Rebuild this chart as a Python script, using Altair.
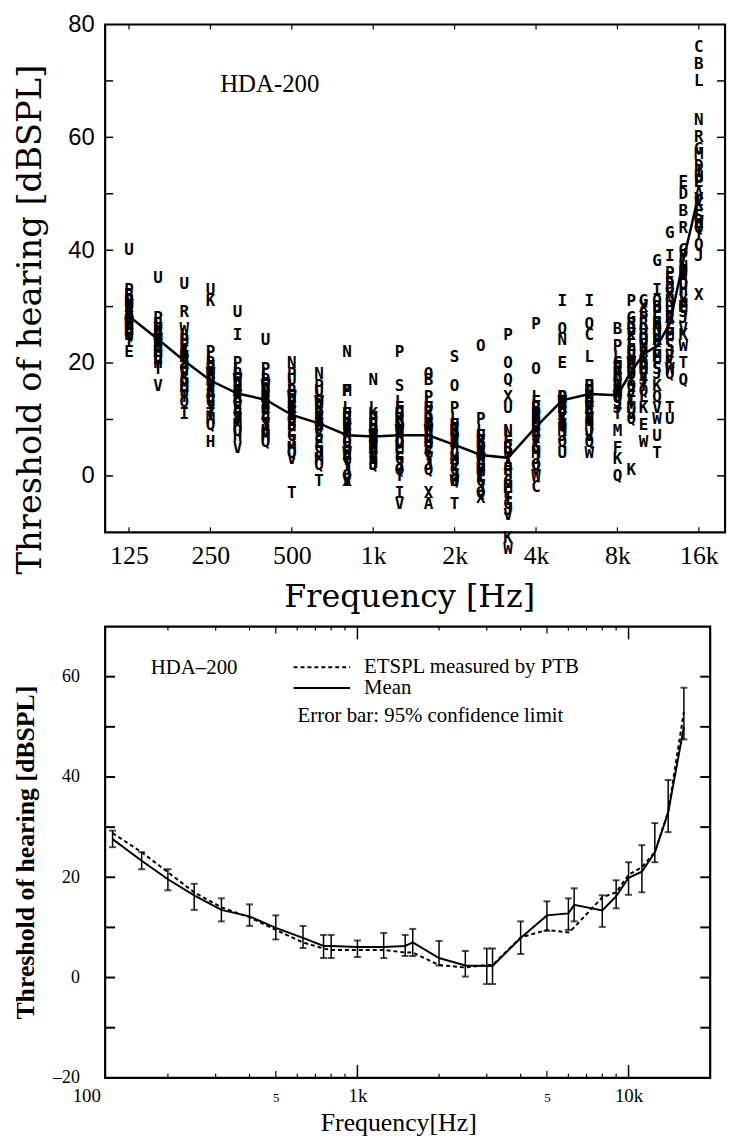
import altair as alt
import pandas as pd

# ---------------- data: top panel (individual subjects A..X) ----------------
subjects = list("ABCDEFGHIJKLMNOPQRSTUVWX")
top_freqs = [125, 160, 200, 250, 315, 400, 500, 630, 800, 1000, 1250, 1600,
             2000, 2500, 3150, 4000, 5000, 6300, 8000, 9000, 10000, 11200,
             12500, 14000, 16000]
thr_125 = [29, 31, 27, 30, 22, 28, 26, 25, 30, 28, 27, 29, 26, 31, 28, 33, 25, 32, 27, 24, 40, 29, 27, 30]
thr_160 = [25, 27, 24, 23, 21, 26, 22, 20, 24, 25, 23, 27, 22, 26, 24, 28, 21, 25, 23, 19, 35, 16, 24, 26]
thr_200 = [22, 24, 19, 21, 18, 23, 17, 15, 11, 20, 22, 25, 16, 21, 19, 24, 13, 29, 20, 14, 34, 18, 26, 21]
thr_250 = [18, 20, 15, 17, 14, 19, 13, 6, 16, 12, 31, 21, 10, 17, 14, 22, 9, 19, 16, 11, 33, 13, 18, 15]
thr_315 = [15, 18, 13, 16, 12, 17, 11, 7, 25, 10, 14, 19, 9, 15, 13, 20, 8, 16, 12, 10, 29, 5, 17, 14]
thr_400 = [14, 17, 12, 15, 11, 16, 10, 8, 13, 9, 14, 18, 7, 15, 12, 19, 6, 14, 11, 9, 24, 13, 16, 12]
thr_500 = [12, 15, 10, 13, 8, 14, 7, 9, 11, 6, 12, 16, 5, 20, 10, 18, 4, 13, 9, -3, 17, 3, 14, 11]
thr_630 = [10, 13, 8, 11, 6, 12, 5, 9, 10, 4, 11, 14, 3, 18, 9, 16, 2, 12, 7, -1, 15, 8, 13, 9]
thr_800 = [8, 10, 6, 9, 4, 11, 3, 7, 8, 1, 9, 12, 15, 22, 6, 15, 0, 10, 5, 2, 11, -1, 4, -1]
thr_1000 = [7, 9, 5, 8, 4, 10, 3, 6, 7, 2, 11, 12, 5, 17, 6, 10, 2, 8, 4, 3, 9, 6, 7, 5]
thr_1250 = [8, 11, 6, 9, 4, 12, 3, 7, -3, 2, 10, 13, 5, 9, 6, 22, 1, 10, 16, 0, 11, -5, 8, 7]
thr_1600 = [-5, 17, 8, 10, 5, 12, 4, 7, 9, 2, 11, 13, 6, 9, 18, 14, 1, 10, 6, 3, 12, 5, 8, -3]
thr_2000 = [6, 8, 4, 7, 2, 9, 1, 5, 6, 0, 8, 10, 3, 7, 16, 12, -1, 8, 21, -5, 9, 2, -1, 3]
thr_2500 = [4, 6, 2, 5, 0, 7, -1, 3, 4, -2, 6, 8, 1, 5, 23, 10, -3, 6, 2, 0, 7, 1, 3, -4]
thr_3150 = [2, 5, -1, 4, -3, 6, -5, 1, 3, -6, -11, 7, -2, 8, 20, 25, 17, 5, 0, -4, 12, -7, -13, 14]
thr_4000 = [9, 12, -2, 10, 6, 13, 5, 8, 11, 3, 10, 14, 4, 11, 19, 27, 2, 12, 7, 6, 9, 1, 0, 8]
thr_5000 = [12, 14, 10, 13, 20, 11, 9, 12, 31, 7, 13, 14, 8, 24, 26, 14, 6, 12, 10, 9, 4, 11, 13, 10]
thr_6300 = [14, 13, 25, 15, 10, 12, 11, 16, 31, 8, 12, 21, 9, 15, 27, 16, 6, 13, 11, 10, 14, 7, 4, 12]
thr_8000 = [15, 26, 20, 15, 19, 5, 20, 18, 16, 12, 3, 21, 8, 17, 14, 23, 0, 19, 13, 11, 15, 16, 14, 18]
thr_9000 = [20, 26, 22, 18, 24, 14, 28, 21, 17, 15, 1, 23, 12, 19, 16, 31, 10, 27, 18, 13, 22, 11, 20, 25]
thr_10000 = [22, 25, 29, 20, 9, 18, 31, 24, 21, 17, 12, 14, 19, 23, 26, 28, 15, 27, 20, 16, 24, 18, 6, 30]
thr_11200 = [24, 27, 22, 30, 28, 20, 38, 25, 33, 18, 16, 23, 21, 26, 31, 29, 14, 24, 19, 4, 7, 12, 10, 27]
thr_12500 = [28, 30, 26, 34, 35, 24, 43, 29, 39, 22, 20, 27, 25, 31, 33, 36, 18, 28, 23, 12, 10, 21, 19, 32]
thr_14000 = [35, 47, 38, 50, 52, 30, 40, 33, 36, 28, 25, 32, 30, 37, 34, 39, 17, 44, 29, 20, 36, 26, 23, 31]
thr_16000 = [50, 73, 76, 55, 52, 47, 58, 45, 54, 39, 48, 70, 57, 63, 41, 52, 44, 60, 46, 43, 53, 49, 45, 32]
top_table = [thr_125, thr_160, thr_200, thr_250, thr_315, thr_400, thr_500, thr_630,
             thr_800, thr_1000, thr_1250, thr_1600, thr_2000, thr_2500, thr_3150,
             thr_4000, thr_5000, thr_6300, thr_8000, thr_9000, thr_10000,
             thr_11200, thr_12500, thr_14000, thr_16000]
top_mean = [28.3, 24.2, 20.4, 16.9, 14.6, 13.5, 10.8, 9.3, 7.2, 7.0, 7.2, 7.2,
            5.5, 3.7, 3.2, 8.7, 13.4, 14.5, 14.3, 18.5, 21.6, 23.0, 27.0, 38.0, 50.0]
top_xtick_vals = [125, 250, 500, 1000, 2000, 4000, 8000, 16000]
top_ytick_vals = [0, 20, 40, 60, 80]
top_yminor = [0, 10, 20, 30, 40, 50, 60, 70]

# ---------------- data: bottom panel (mean, 95% CI, ETSPL) ----------------
bot_freqs = [125, 160, 200, 250, 315, 400, 500, 630, 750, 800, 1000, 1250, 1500,
             1600, 2000, 2500, 3000, 3150, 4000, 5000, 6000, 6300, 8000, 9000,
             10000, 11200, 12500, 14000, 16000]
bot_mean = [27.6, 23.3, 19.6, 16.4, 13.5, 12.2, 9.9, 7.9, 6.3, 6.3, 6.1, 6.1, 6.3,
            7.0, 3.9, 2.4, 2.3, 2.3, 7.9, 12.4, 12.8, 14.5, 13.4, 16.2, 19.9, 21.1,
            25.0, 32.9, 50.0]
bot_hi = [29.3, 25.0, 21.6, 18.7, 15.8, 14.6, 12.4, 10.3, 8.5, 8.5, 7.4, 8.9, 8.5,
          9.7, 7.3, 5.3, 5.8, 5.8, 11.2, 15.2, 15.8, 17.8, 16.4, 19.4, 23.0, 26.4,
          30.8, 39.4, 57.8]
bot_lo = [26.0, 21.6, 17.4, 13.5, 11.2, 10.3, 7.6, 5.9, 3.9, 3.9, 4.1, 3.9, 4.3,
          4.3, 2.4, 0.2, -1.3, -1.3, 4.7, 9.3, 9.5, 11.2, 10.1, 13.8, 16.5, 17.0,
          23.0, 29.0, 47.5]
etspl = [28.8, 25.0, 21.0, 17.0, 14.0, 12.0, 9.5, 7.0, 5.8, 5.5, 5.5, 5.5, 5.0,
         5.0, 2.5, 2.0, 2.5, 2.5, 8.0, 9.5, 9.0, 10.0, 16.0, 17.0, 20.5, 22.0,
         25.0, 33.0, 53.0]
bot_xminor = [200, 300, 400, 600, 700, 800, 900, 2000, 3000, 4000, 6000, 7000, 8000, 9000]
bot_xmid = [500, 5000]
bot_xmajor = [1000, 10000]
bot_ytick_vals = [-20, 0, 20, 40, 60]
bot_yminor = [-10, 0, 10, 20, 30, 40, 50, 60]

# ---------------- sizes ----------------
W1, H1 = 625, 512
LSHIFT = 19           # bottom scale starts this far left of the shared plot edge
W2, H2 = 610, 455
SERIF = "Liberation Serif"

rows = []
for f, vals in zip(top_freqs, top_table):
    for s, v in zip(subjects, vals):
        rows.append({"freq": f, "thr": v, "subj": s})
letters_df = pd.DataFrame(rows)
top_mean_df = pd.DataFrame({"freq": top_freqs, "thr": top_mean})

xs_top = alt.Scale(type="log", domain=[102, 20000], nice=False)
ys_top = alt.Scale(domain=[-10, 80], nice=False, zero=False)

x_axis_top = alt.Axis(
    values=top_xtick_vals,
    labelExpr="datum.value >= 1000 ? (datum.value / 1000) + 'k' : '' + datum.value",
    labelFont=SERIF, labelFontSize=26, labelPadding=10, labelFlush=False,
    labelColor="black", titleColor="black",
    titleFont="DejaVu Serif", titleFontSize=32, titleFontWeight="normal",
    titlePadding=14, titleX=W1 / 2 - 6)
y_axis_top = alt.Axis(
    values=top_ytick_vals, labelFont="Liberation Sans", labelFontSize=24,
    labelPadding=11, labelColor="black", titleColor="black",
    titleFont="DejaVu Serif", titleFontSize=34, titleFontWeight="normal",
    titleX=-75, titleY=297, titleAngle=270, titleAlign="center", titleBaseline="middle")

letters = alt.Chart(letters_df).mark_text(
    font="DejaVu Sans Mono", fontSize=16, fontWeight="bold", color="black"
).encode(
    x=alt.X("freq:Q", scale=xs_top, axis=x_axis_top, title="Frequency [Hz]"),
    y=alt.Y("thr:Q", scale=ys_top, axis=y_axis_top, title="Threshold of hearing [dBSPL]"),
    text="subj:N",
)
top_line = alt.Chart(top_mean_df).mark_line(color="black", strokeWidth=2.5).encode(
    x="freq:Q", y="thr:Q")


def xticks(vals, length, height, sw=1.2):
    df = pd.DataFrame({"freq": vals})
    b = alt.Chart(df).mark_rule(color="black", strokeWidth=sw).encode(
        x="freq:Q", y=alt.value(height), y2=alt.value(height - length))
    t = alt.Chart(df).mark_rule(color="black", strokeWidth=sw).encode(
        x="freq:Q", y=alt.value(0), y2=alt.value(length))
    return [b, t]


def yticks(vals, length, left, right, sw=1.5):
    df = pd.DataFrame({"thr": vals})
    l = alt.Chart(df).mark_rule(color="black", strokeWidth=sw).encode(
        y="thr:Q", x=alt.value(left), x2=alt.value(left + length))
    r = alt.Chart(df).mark_rule(color="black", strokeWidth=sw).encode(
        y="thr:Q", x=alt.value(right), x2=alt.value(right - length))
    return [l, r]


hda_top = alt.Chart(pd.DataFrame({"t": ["HDA-200"]})).mark_text(
    font=SERIF, fontSize=25, align="left", baseline="middle", color="black"
).encode(x=alt.value(116), y=alt.value(60), text="t:N")

top = alt.layer(
    letters, top_line, *xticks(top_xtick_vals, 5, H1),
    *yticks(top_yminor, 8, 0, W1), hda_top
).properties(width=W1, height=H1)

# ---------------- bottom panel ----------------
xs_bot = alt.Scale(type="log", domain=[100, 20000], range=[-LSHIFT, W2], nice=False)
ys_bot = alt.Scale(domain=[-20, 70], nice=False, zero=False)

bot_df = pd.DataFrame({"freq": bot_freqs, "thr": bot_mean, "lo": bot_lo, "hi": bot_hi})
etspl_df = pd.DataFrame({"freq": bot_freqs, "thr": etspl})
caps_df = pd.DataFrame({"freq": bot_freqs + bot_freqs, "thr": bot_lo + bot_hi})

x_axis_bot = alt.Axis(
    values=[100, 500, 1000, 5000, 10000],
    labelExpr="datum.value == 100 ? '100' : (datum.value == 500 || datum.value == 5000) ? '5' : datum.value == 1000 ? '1k' : '10k'",
    labelFont=SERIF, labelFontSize=alt.condition("datum.value == 500 || datum.value == 5000", alt.value(13), alt.value(19)),
    labelBaseline="alphabetic", labelPadding=24, labelFlush=False,
    labelColor="black", titleColor="black",
    titleFont=SERIF, titleFontSize=26, titleFontWeight="normal", titlePadding=4,
    titleX=(W2 - LSHIFT) / 2)
y_axis_bot = alt.Axis(
    values=bot_ytick_vals, offset=LSHIFT,
    labelExpr="datum.value < 0 ? '\u2013' + abs(datum.value) : '' + datum.value",
    labelFont=SERIF, labelFontSize=18, labelPadding=7,
    labelColor="black", titleColor="black",
    titleFont=SERIF, titleFontSize=26, titleFontWeight="bold",
    titleX=-61, titleY=H2 / 2, titleAngle=270, titleAlign="center", titleBaseline="middle")

mean_line = alt.Chart(bot_df).mark_line(color="black", strokeWidth=2).encode(
    x=alt.X("freq:Q", scale=xs_bot, axis=x_axis_bot, title="Frequency[Hz]"),
    y=alt.Y("thr:Q", scale=ys_bot, axis=y_axis_bot, title="Threshold of hearing [dBSPL]"),
)
etspl_line = alt.Chart(etspl_df).mark_line(color="black", strokeWidth=2, strokeDash=[4, 3]).encode(
    x="freq:Q", y="thr:Q")
err_rule = alt.Chart(bot_df).mark_rule(color="black", strokeWidth=1.5).encode(
    x="freq:Q", y="lo:Q", y2="hi:Q")
caps = alt.Chart(caps_df).mark_tick(color="black", orient="horizontal", size=7, thickness=2).encode(
    x="freq:Q", y="thr:Q")

one = pd.DataFrame({"t": ["x"]})
leg_dash = alt.Chart(one).mark_rule(color="black", strokeWidth=2, strokeDash=[4, 3]).encode(
    x=alt.value(209 - LSHIFT), x2=alt.value(266 - LSHIFT), y=alt.value(41))
leg_solid = alt.Chart(one).mark_rule(color="black", strokeWidth=2).encode(
    x=alt.value(209 - LSHIFT), x2=alt.value(266 - LSHIFT), y=alt.value(62))
ann = pd.DataFrame({
    "t": ["HDA\u2013200", "ETSPL measured by PTB", "Mean", "Error bar: 95% confidence limit"],
    "px": [65 - LSHIFT, 280 - LSHIFT, 280 - LSHIFT, 213 - LSHIFT],
    "py": [42, 41, 62, 90],
})
ann_text = alt.Chart(ann).mark_text(font=SERIF, fontSize=21, align="left", baseline="middle", color="black").encode(
    x=alt.X("px:Q", scale=None), y=alt.Y("py:Q", scale=None), text="t:N")

bottom = alt.layer(
    etspl_line, mean_line, err_rule, caps,
    *xticks(bot_xminor, 4, H2), *xticks(bot_xmid, 7, H2), *xticks(bot_xmajor, 13, H2, sw=1.5),
    *yticks(bot_yminor, 10, 0, W2, sw=2),
    leg_dash, leg_solid, ann_text,
).properties(width=W2, height=H2)

chart = alt.vconcat(alt.hconcat(top), alt.hconcat(bottom), spacing=10).configure_view(
    stroke="black", strokeWidth=2.2
).configure_axis(
    grid=False, domain=False, ticks=False, tickSize=0
).properties(
    padding={"left": 11, "top": 6, "right": 0, "bottom": 0},
    background="white",
)

chart.save("out.html", embed_options={"renderer": "svg", "actions": False})
